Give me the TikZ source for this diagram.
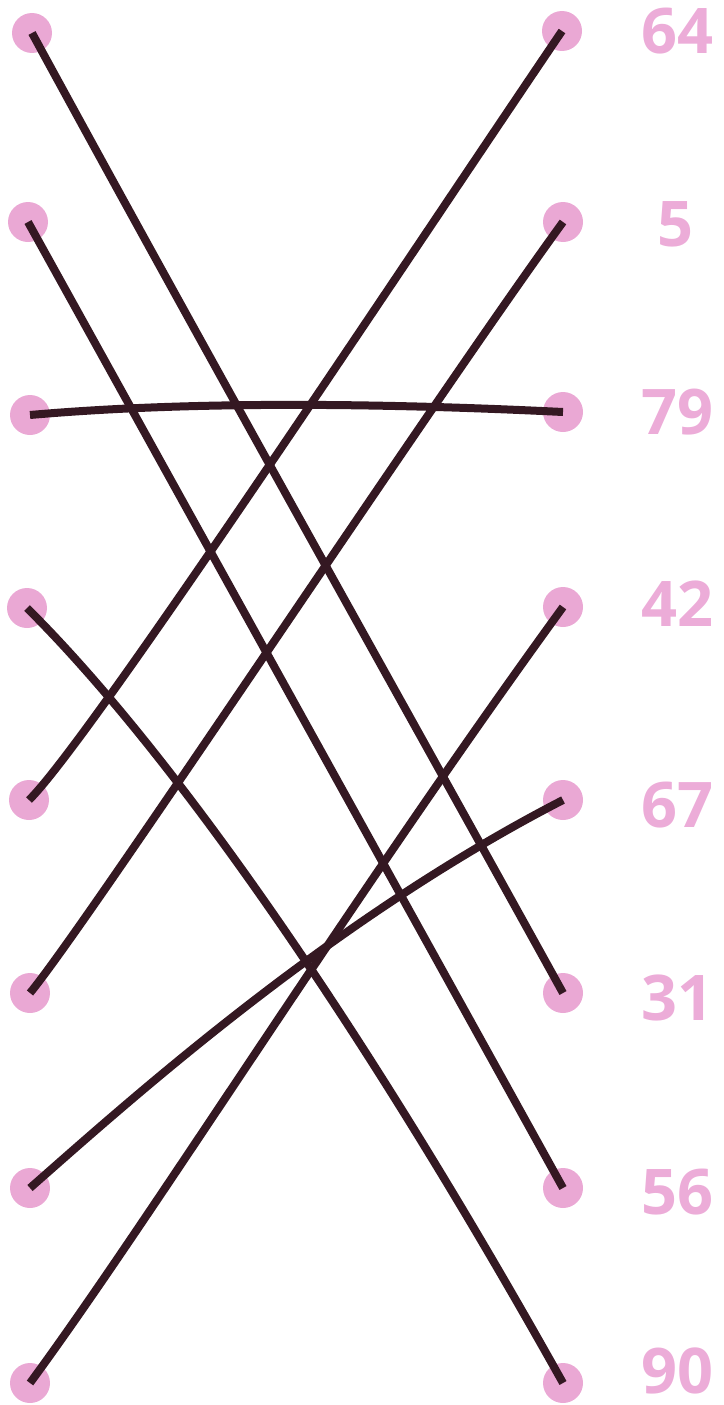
\documentclass[tikz,border=0pt]{standalone}
\usepackage{fontspec}
\setmainfont{Open Sans}
\definecolor{dotpink}{RGB}{234,168,212}
\definecolor{labpink}{RGB}{236,172,216}
\definecolor{ink}{RGB}{52,24,34}
\begin{document}
\begin{tikzpicture}[x=1pt,y=-1pt,
  dot/.style={circle,fill=dotpink,inner sep=0pt,minimum size=40pt},
  lab/.style={text=labpink,font=\bfseries\fontsize{63}{63}\selectfont,anchor=center,inner sep=0pt},
  wire/.style={draw=ink,line width=8pt,line cap=butt}]
\useasboundingbox (0,0) rectangle (723,1405);
% left dots
\node[dot] (l1) at (32,33) {};
\node[dot] (l2) at (28,222) {};
\node[dot] (l3) at (30,415) {};
\node[dot] (l4) at (27,608) {};
\node[dot] (l5) at (29,800) {};
\node[dot] (l6) at (30,993) {};
\node[dot] (l7) at (30,1188) {};
\node[dot] (l8) at (30,1383) {};
% right dots
\node[dot] (r1) at (562,31) {};
\node[dot] (r2) at (563,222) {};
\node[dot] (r3) at (563,412) {};
\node[dot] (r4) at (563,607) {};
\node[dot] (r5) at (563,800) {};
\node[dot] (r6) at (563,993) {};
\node[dot] (r7) at (563,1188) {};
\node[dot] (r8) at (563,1383) {};
% labels
\node[lab] (t1) at (677,31) {64};
\node[lab] (t2) at (675,224) {5};
\node[lab] (t3) at (677,412) {79};
\node[lab] (t4) at (677,604) {42};
\node[lab] (t5) at (677,805) {67};
\node[lab] (t6) at (677,998) {31};
\node[lab] (t7) at (677,1192) {56};
\node[lab] (t8) at (677,1371) {90};
% connectors
\draw[wire] (l1.center) .. controls (210,360) and (390,680) .. (r6.center);
\draw[wire] (l2.center) -- (r7.center);
\draw[wire] (l3.center) .. controls (200,400) and (400,404) .. (r3.center);
\draw[wire] (l4.center) .. controls (170,750) and (360,1020) .. (r8.center);
\draw[wire] (l5.center) .. controls (90,740) and (400,270) .. (r1.center);
\draw[wire] (l6.center) .. controls (90,920) and (430,405) .. (r2.center);
\draw[wire] (l7.center) .. controls (130,1100) and (330,920) .. (r5.center);
\draw[wire] (l8.center) .. controls (150,1220) and (350,900) .. (r4.center);
\end{tikzpicture}
\end{document}
